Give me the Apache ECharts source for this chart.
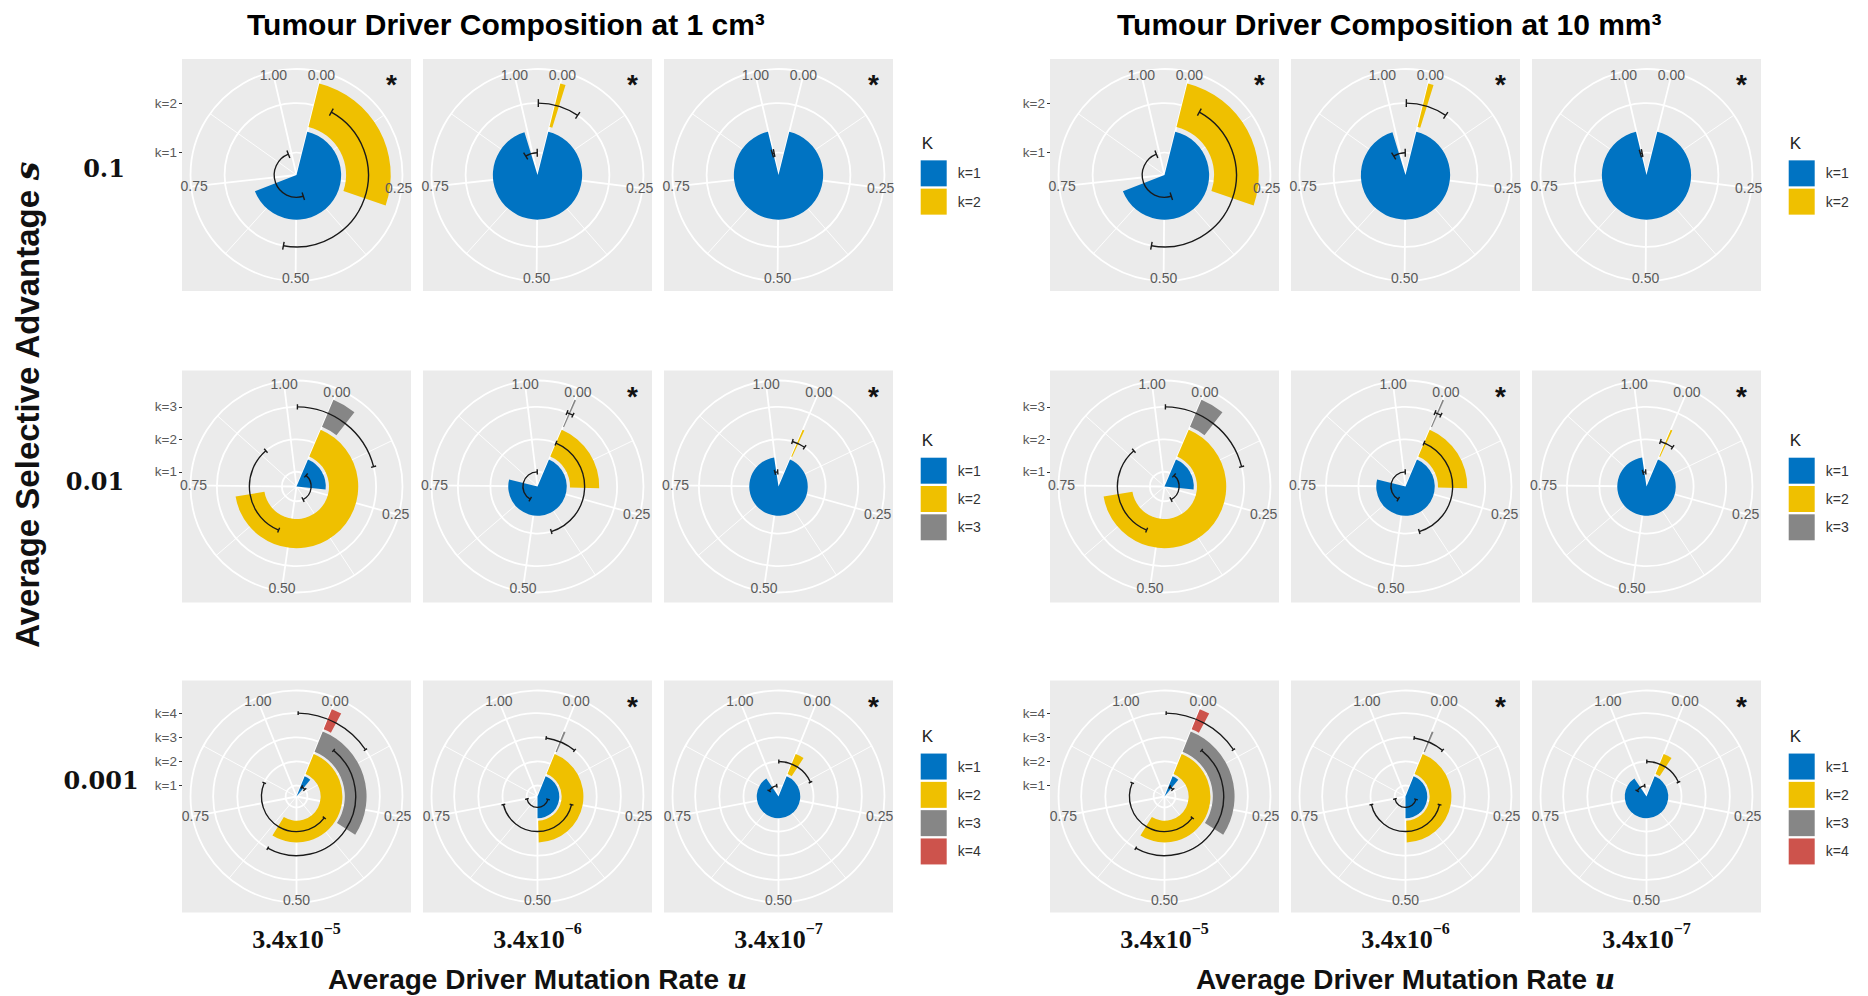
<!DOCTYPE html>
<html>
<head>
<meta charset="utf-8">
<script src="https://cdn.jsdelivr.net/npm/echarts@6/dist/echarts.min.js"></script>
<style>
  html, body { margin: 0; padding: 0; background: #ffffff; }
  #chart { width: 1868px; height: 996px; }
</style>
</head>
<body>
<div id="chart"></div>
<script>
// ---- facet levels and labels ----
const sizeTitles = ['Tumour Driver Composition at 1 cm³', 'Tumour Driver Composition at 10 mm³'];
const sLevels = ['0.1', '0.01', '0.001'];
const uExponents = ['−5', '−6', '−7'];           // u = 3.4x10^exp
const kNames = ['k=1', 'k=2', 'k=3', 'k=4'];
const kColors = ['#0073C2', '#EFC000', '#868686', '#CD534C'];
const angleTicks = [0, 0.25, 0.5, 0.75, 1];
const angleMinorTicks = [0.125, 0.375, 0.625, 0.875];
// theta extent of each s row (data range incl. error bars)
const thetaRange = [[-0.042, 1.039], [-0.07, 1.021], [-0.0696, 1.0696]];
// significance star per [s row][u column]
const starred = [[1, 1, 1], [0, 1, 1], [0, 1, 1]];

// ---- proportion of tumours with k drivers: mean and error limits, one entry per u column ----
// 1 cm³, s = 0.1
const mean_1cm_s01 = [[0.705, 0.285], [0.988, 0.010], [0.998, 0]];
const lo_1cm_s01   = [[0.445, 0.045], [0.943, -0.040], [0.991, 0]];
const hi_1cm_s01   = [[0.975, 0.530], [1.037, 0.060], [1.005, 0]];
// 1 cm³, s = 0.01
const mean_1cm_s001 = [[0.220, 0.720, 0.045], [0.790, 0.208, 0.003], [0.995, 0.005, 0]];
const lo_1cm_s001   = [[0.053, 0.543, -0.068], [0.566, 0.000, -0.004], [0.978, -0.018, 0]];
const hi_1cm_s001   = [[0.395, 0.898, 0.159], [1.018, 0.424, 0.010], [1.012, 0.032, 0]];
// 1 cm³, s = 0.001
const mean_1cm_s0001 = [[0.055, 0.600, 0.320, 0.020], [0.500, 0.495, 0.005, 0], [0.962, 0.035, 0, 0]];
const lo_1cm_s0001   = [[0.022, 0.334, 0.053, -0.066], [0.264, 0.258, -0.043, 0], [0.883, -0.068, 0, 0]];
const hi_1cm_s0001   = [[0.088, 0.857, 0.592, 0.107], [0.744, 0.743, 0.053, 0], [1.041, 0.139, 0, 0]];
// 10 mm³, s = 0.1
const mean_10mm_s01 = [[0.705, 0.285], [0.988, 0.010], [0.998, 0]];
const lo_10mm_s01   = [[0.445, 0.045], [0.943, -0.040], [0.991, 0]];
const hi_10mm_s01   = [[0.975, 0.530], [1.037, 0.060], [1.005, 0]];
// 10 mm³, s = 0.01
const mean_10mm_s001 = [[0.220, 0.720, 0.045], [0.790, 0.208, 0.003], [0.995, 0.005, 0]];
const lo_10mm_s001   = [[0.053, 0.543, -0.068], [0.566, 0.000, -0.004], [0.978, -0.018, 0]];
const hi_10mm_s001   = [[0.395, 0.898, 0.159], [1.018, 0.424, 0.010], [1.012, 0.032, 0]];
// 10 mm³, s = 0.001
const mean_10mm_s0001 = [[0.055, 0.600, 0.320, 0.020], [0.500, 0.495, 0.005, 0], [0.962, 0.035, 0, 0]];
const lo_10mm_s0001   = [[0.022, 0.334, 0.053, -0.066], [0.264, 0.258, -0.043, 0], [0.883, -0.068, 0, 0]];
const hi_10mm_s0001   = [[0.088, 0.857, 0.592, 0.107], [0.744, 0.743, 0.053, 0], [1.041, 0.139, 0, 0]];

const tables = [
  [[mean_1cm_s01, lo_1cm_s01, hi_1cm_s01], [mean_1cm_s001, lo_1cm_s001, hi_1cm_s001], [mean_1cm_s0001, lo_1cm_s0001, hi_1cm_s0001]],
  [[mean_10mm_s01, lo_10mm_s01, hi_10mm_s01], [mean_10mm_s001, lo_10mm_s001, hi_10mm_s001], [mean_10mm_s0001, lo_10mm_s0001, hi_10mm_s0001]]
];

// ---- layout ----
const GROUP_DX = 868;
const colX = [296.5, 537.5, 778.5];
const rowY = [175, 486.5, 796.5];
const PANEL_W = 229, PANEL_H = 232, R = 106;
const FONT_SANS = '"Liberation Sans", Arial, Helvetica, sans-serif';
const FONT_SERIF = '"DejaVu Serif", "Liberation Serif", serif';
const FONT_TIMES = '"Liberation Serif", "DejaVu Serif", serif';
const GRID_MAJOR = { color: '#ffffff', width: 1.8 };
const GRID_MINOR = { color: '#ffffff', width: 0.9 };
const BAR_HALF = 0.45, CAP_HALF = 0.08;

function barRenderer(color) {
  return function (params, api) {
    const cs = params.coordSys;
    const cx = cs.cx, cy = cs.cy;
    const k = api.value(0), m = api.value(1), lo = api.value(2), hi = api.value(3);
    const angOf = v => { const p = api.coord([k, v]); return Math.atan2(p[1] - cy, p[0] - cx); };
    const radOf = r => { const p = api.coord([r, 0]); return Math.hypot(p[0] - cx, p[1] - cy); };
    const unwrap = (a0, a1) => { while (a1 <= a0) a1 += Math.PI * 2; return a1; };
    const children = [];
    if (m > 0) {
      const a0 = angOf(0);
      children.push({
        type: 'sector',
        shape: { cx, cy, r0: radOf(k - BAR_HALF), r: radOf(k + BAR_HALF), startAngle: a0, endAngle: unwrap(a0, angOf(m)), clockwise: true },
        style: { fill: color }
      });
    }
    if (hi > lo) {
      const aLo = angOf(lo);
      children.push({
        type: 'arc',
        shape: { cx, cy, r: radOf(k), startAngle: aLo, endAngle: unwrap(aLo, angOf(hi)), clockwise: true },
        style: { stroke: '#1a1a1a', lineWidth: 1.4, fill: null }
      });
      [lo, hi].forEach(v => {
        const p1 = api.coord([k - CAP_HALF, v]);
        const p2 = api.coord([k + CAP_HALF, v]);
        children.push({
          type: 'line',
          shape: { x1: p1[0], y1: p1[1], x2: p2[0], y2: p2[1] },
          style: { stroke: '#1a1a1a', lineWidth: 1.4 }
        });
      });
    }
    return { type: 'group', children };
  };
}

function thetaLabelRenderer(params, api) {
  const cs = params.coordSys;
  const v = api.value(1);
  const p = api.coord([api.value(0), v]);
  const dx = p[0] - cs.cx, dy = p[1] - cs.cy, d = Math.hypot(dx, dy);
  const rr = d - 3;
  return {
    type: 'text',
    style: {
      text: v.toFixed(2), x: cs.cx + dx / d * rr, y: cs.cy + dy / d * rr,
      align: 'center', verticalAlign: 'middle', fill: '#5a5a5a', font: '14px ' + FONT_SANS
    }
  };
}

const option = {
  animation: false,
  backgroundColor: '#ffffff',
  grid: [], xAxis: [], yAxis: [], polar: [], angleAxis: [], radiusAxis: [],
  series: [], legend: [], graphic: []
};
const gfx = [];

for (let g = 0; g < 2; g++) {
  for (let r = 0; r < 3; r++) {
    const K = r + 2;
    const ks = [];
    for (let i = 1; i <= K; i++) ks.push(i);
    const rMax = 0.55 + 1.125 * (K - 0.1);
    const [mean, lo, hi] = tables[g][r];
    const cy = rowY[r];

    for (let c = 0; c < 3; c++) {
      const cx = colX[c] + g * GROUP_DX;
      // panel background and radial (k) axis on the left edge
      const gi = option.grid.length;
      option.grid.push({
        left: cx - PANEL_W / 2, top: cy - PANEL_H / 2, width: PANEL_W, height: PANEL_H,
        show: true, backgroundColor: '#EBEBEB', borderWidth: 0, z: 0
      });
      option.xAxis.push({ gridIndex: gi, type: 'value', show: false, min: 0, max: 1 });
      const spanK = (rMax - 0.55) * (PANEL_H / 2) / R;
      option.yAxis.push({
        gridIndex: gi, type: 'value', show: c === 0,
        min: 0.55 - spanK, max: 0.55 + spanK,
        axisLine: { show: false },
        axisTick: { show: true, length: 3, customValues: ks, lineStyle: { color: '#333333', width: 1 } },
        axisLabel: { customValues: ks, formatter: v => 'k=' + v, color: '#5a5a5a', fontSize: 13.5, fontFamily: FONT_SANS, margin: 5 },
        splitLine: { show: false }
      });

      // major polar: rings at each k, spokes at quarter ticks, outer circle
      const pi = option.polar.length;
      option.polar.push({ center: [cx, cy], radius: R });
      option.angleAxis.push({
        polarIndex: pi, type: 'value', min: thetaRange[r][0], max: thetaRange[r][1],
        startAngle: 90, clockwise: true, z: 1,
        axisLine: { show: true, lineStyle: GRID_MAJOR },
        axisTick: { show: false, customValues: angleTicks },
        axisLabel: { show: false },
        splitLine: { show: true, lineStyle: GRID_MAJOR }
      });
      option.radiusAxis.push({
        polarIndex: pi, type: 'value', min: 0.55, max: rMax, z: 1,
        axisLine: { show: false },
        axisTick: { show: false, customValues: ks },
        axisLabel: { show: false },
        splitLine: { show: true, lineStyle: GRID_MAJOR }
      });
      // minor polar: thin spokes between the quarter ticks
      const pm = option.polar.length;
      option.polar.push({ center: [cx, cy], radius: R });
      option.angleAxis.push({
        polarIndex: pm, type: 'value', min: thetaRange[r][0], max: thetaRange[r][1],
        startAngle: 90, clockwise: true, z: 1,
        axisLine: { show: false },
        axisTick: { show: false, customValues: angleMinorTicks },
        axisLabel: { show: false },
        splitLine: { show: true, lineStyle: GRID_MINOR }
      });
      option.radiusAxis.push({
        polarIndex: pm, type: 'value', min: 0.55, max: rMax, z: 1,
        axisLine: { show: false }, axisTick: { show: false }, axisLabel: { show: false }, splitLine: { show: false }
      });

      // bars + error bars, one series per k
      for (let k = 0; k < K; k++) {
        const m = mean[c][k];
        if (!(m > 0) && !(hi[c][k] > lo[c][k])) continue;
        option.series.push({
          type: 'custom', name: kNames[k], coordinateSystem: 'polar', polarIndex: pi,
          silent: true, z: 3,
          itemStyle: { color: kColors[k] },
          encode: { radius: 0, angle: 1 },
          data: [[k + 1, m, lo[c][k], hi[c][k]]],
          renderItem: barRenderer(kColors[k])
        });
      }
      // theta tick labels placed on the outer circle
      option.series.push({
        type: 'custom', coordinateSystem: 'polar', polarIndex: pi, silent: true, z: 4,
        encode: { radius: 0, angle: 1 },
        data: angleTicks.map(v => [rMax, v]),
        renderItem: thetaLabelRenderer
      });

      if (starred[r][c]) {
        gfx.push({ type: 'text', x: cx + 95, y: cy - 90.5, z: 10,
          style: { text: '*', font: 'bold 28px ' + FONT_SANS, fill: '#111', align: 'center', verticalAlign: 'middle' } });
      }
    }

    // legend for this row
    const legendLeft = 920.7 + g * GROUP_DX;
    const blockH = 25 + K * 26 + (K - 1) * 2.3;
    const itemsTop = cy - blockH / 2 + 25;
    option.legend.push({
      orient: 'vertical', left: legendLeft, top: itemsTop, padding: 0,
      itemWidth: 26, itemHeight: 26, itemGap: 2.3, selectedMode: false,
      data: kNames.slice(0, K).map(n => ({ name: n, icon: 'rect' })),
      textStyle: { fontSize: 14, color: '#333333', fontFamily: FONT_SANS, padding: [0, 0, 0, 6] }
    });
    gfx.push({ type: 'text', x: legendLeft + 1, y: itemsTop - 17, z: 10,
      style: { text: 'K', font: '17px ' + FONT_SANS, fill: '#222', align: 'left', verticalAlign: 'middle' } });
  }

  // group title
  gfx.push({ type: 'text', x: 247 + g * 870, y: 24, z: 10,
    style: { text: sizeTitles[g], font: 'bold 30px ' + FONT_SANS, fill: '#000', align: 'left', verticalAlign: 'middle' } });

  // u column labels
  for (let c = 0; c < 3; c++) {
    gfx.push({ type: 'text', x: colX[c] + g * GROUP_DX, y: 936, z: 10,
      style: {
        text: '{a|3.4x10}{b|' + uExponents[c] + '}', align: 'center', verticalAlign: 'middle',
        rich: {
          a: { font: 'bold 26px ' + FONT_TIMES, fill: '#111', lineHeight: 32, verticalAlign: 'bottom' },
          b: { font: 'bold 16px ' + FONT_TIMES, fill: '#111', lineHeight: 16, verticalAlign: 'top' }
        }
      } });
  }
  // x axis title
  gfx.push({ type: 'text', x: colX[1] + g * GROUP_DX, y: 979, z: 10,
    style: {
      text: '{a|Average Driver Mutation Rate }{b|u}', align: 'center', verticalAlign: 'middle',
      rich: {
        a: { font: 'bold 28px ' + FONT_SANS, fill: '#111' },
        b: { font: 'italic bold 28px ' + FONT_SERIF, fill: '#111' }
      }
    } });
}

// s row labels
const rowLabelX = [104, 95, 101];
const rowLabelY = [168, 481, 780];
for (let r = 0; r < 3; r++) {
  gfx.push({ type: 'text', x: rowLabelX[r], y: rowLabelY[r], z: 10,
    style: { text: sLevels[r], font: 'bold 24px ' + FONT_SERIF, fill: '#111', align: 'center', verticalAlign: 'middle' } });
}
// y axis title
gfx.push({ type: 'text', x: 27, y: 405, rotation: Math.PI / 2, z: 10,
  style: {
    text: '{a|Average Selective Advantage }{b|s}', align: 'center', verticalAlign: 'middle',
    rich: {
      a: { font: 'bold 33px ' + FONT_SANS, fill: '#111' },
      b: { font: 'italic bold 33px ' + FONT_SERIF, fill: '#111' }
    }
  } });

option.graphic = { elements: gfx };

const chart = echarts.init(document.getElementById('chart'), null, { renderer: 'svg', width: 1868, height: 996 });
chart.setOption(option);
</script>
</body>
</html>
